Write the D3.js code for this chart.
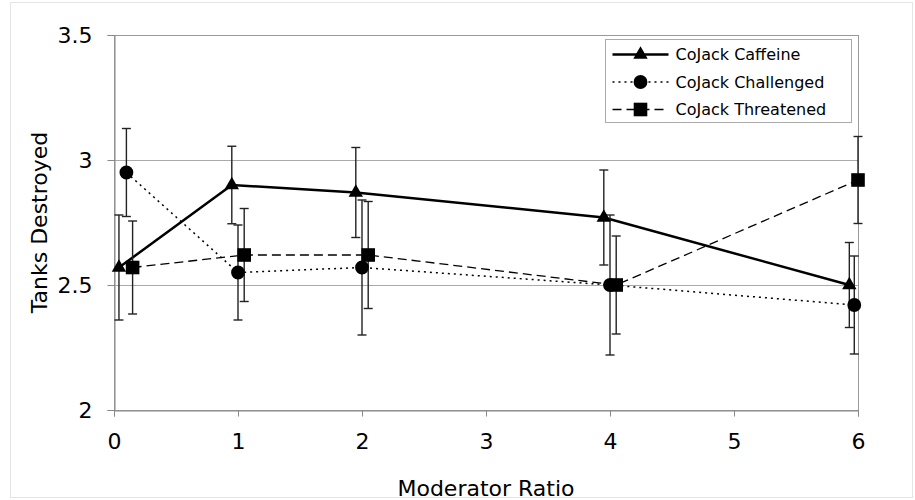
<!DOCTYPE html>
<html>
<head>
<meta charset="utf-8">
<script src="https://cdn.jsdelivr.net/npm/d3@7"></script>
<style>
  body { margin: 0; background: #fff; }
  svg { display: block; font-family: "DejaVu Sans", Verdana, sans-serif; }
</style>
</head>
<body>
<div id="chart"></div>
<script>
// data
var seriesNames = ["CoJack Caffeine", "CoJack Challenged", "CoJack Threatened"];
var caffeineX = [0.04, 0.95, 1.95, 3.95, 5.93];
var caffeineY = [2.57, 2.90, 2.87, 2.77, 2.50];
var caffeineErr = [0.21, 0.155, 0.18, 0.19, 0.17];
var challengedX = [0.1, 1.0, 2.0, 4.0, 5.97];
var challengedY = [2.95, 2.55, 2.57, 2.50, 2.42];
var challengedErr = [0.176, 0.19, 0.27, 0.28, 0.196];
var threatenedX = [0.15, 1.05, 2.05, 4.05, 6.0];
var threatenedY = [2.57, 2.62, 2.62, 2.50, 2.92];
var threatenedErr = [0.186, 0.186, 0.214, 0.196, 0.174];
var xTicks = [0, 1, 2, 3, 4, 5, 6];
var yTicks = [2, 2.5, 3, 3.5];

var width = 915, height = 500;
var margin = { top: 35, right: 57, bottom: 90, left: 114 };

var svg = d3.select("#chart").append("svg")
    .attr("width", width)
    .attr("height", height);

// faint outer frame
svg.append("rect")
    .attr("x", 10.5).attr("y", 2.5)
    .attr("width", width - 13).attr("height", height - 5)
    .attr("fill", "none")
    .attr("stroke", "#e4e4e4");

var x = d3.scaleLinear().domain([0, 6]).range([margin.left, width - margin.right]);
var y = d3.scaleLinear().domain([2, 3.5]).range([height - margin.bottom, margin.top]);

// grid
svg.append("g")
    .selectAll("line")
    .data(yTicks.slice(1, 3))
    .enter().append("line")
    .attr("x1", x(0)).attr("x2", x(6))
    .attr("y1", function (d) { return Math.round(y(d)) + 0.5; })
    .attr("y2", function (d) { return Math.round(y(d)) + 0.5; })
    .attr("stroke", "#aaa")
    .attr("stroke-width", 1);

// plot frame
svg.append("rect")
    .attr("x", x(0) + 0.5).attr("y", y(3.5) + 0.5)
    .attr("width", x(6) - x(0)).attr("height", y(2) - y(3.5))
    .attr("fill", "none")
    .attr("stroke", "#999");

var xAxis = svg.append("g")
    .attr("transform", "translate(0," + (y(2) + 0.5) + ")")
    .call(d3.axisBottom(x).tickValues(xTicks).tickSize(6).tickPadding(17).tickFormat(d3.format("d")));
var yAxis = svg.append("g")
    .attr("transform", "translate(" + (x(0) + 0.5) + ",0)")
    .call(d3.axisLeft(y).tickValues(yTicks).tickSize(7).tickPadding(15).tickFormat(function (d) { return d; }));

[xAxis, yAxis].forEach(function (ax) {
    ax.select(".domain").attr("stroke", "#888");
    ax.selectAll(".tick line").attr("stroke", "#888");
    ax.selectAll("text").attr("fill", "#000").style("font-size", "22px")
        .style("font-family", "DejaVu Sans, Verdana, sans-serif");
});

svg.append("text")
    .attr("x", (x(0) + x(6)) / 2)
    .attr("y", 496)
    .attr("text-anchor", "middle")
    .style("font-size", "22px")
    .text("Moderator Ratio");

svg.append("text")
    .attr("transform", "translate(47," + y(2.75) + ") rotate(-90)")
    .attr("text-anchor", "middle")
    .style("font-size", "22px")
    .text("Tanks Destroyed");

function makeSeries(xs, ys, es) {
    return xs.map(function (v, i) { return { x: v, y: ys[i], e: es[i] }; });
}

var series = [
    { name: seriesNames[0], pts: makeSeries(caffeineX, caffeineY, caffeineErr), dash: null, width: 2.5, sym: d3.symbolTriangle, size: 90 },
    { name: seriesNames[1], pts: makeSeries(challengedX, challengedY, challengedErr), dash: "2,4", width: 1.5, sym: d3.symbolCircle, size: 150 },
    { name: seriesNames[2], pts: makeSeries(threatenedX, threatenedY, threatenedErr), dash: "9,5", width: 1.3, sym: d3.symbolSquare, size: 185 }
];

var line = d3.line()
    .x(function (d) { return x(d.x); })
    .y(function (d) { return y(d.y); });

svg.append("g").selectAll("path")
    .data(series)
    .enter().append("path")
    .attr("d", function (s) { return line(s.pts); })
    .attr("fill", "none")
    .attr("stroke", "#000")
    .attr("stroke-width", function (s) { return s.width; })
    .attr("stroke-dasharray", function (s) { return s.dash; });

// error bars
series.forEach(function (s) {
    var g = svg.append("g").attr("stroke", "#222").attr("stroke-width", 1.4);
    s.pts.forEach(function (p) {
        var cx = x(p.x), t = y(p.y + p.e), b = y(p.y - p.e);
        g.append("line").attr("x1", cx).attr("x2", cx).attr("y1", t).attr("y2", b);
        g.append("line").attr("x1", cx - 4.5).attr("x2", cx + 4.5).attr("y1", t).attr("y2", t);
        g.append("line").attr("x1", cx - 4.5).attr("x2", cx + 4.5).attr("y1", b).attr("y2", b);
    });
});

// markers
series.forEach(function (s) {
    svg.append("g").selectAll("path")
        .data(s.pts)
        .enter().append("path")
        .attr("d", d3.symbol().type(s.sym).size(s.size))
        .attr("transform", function (p) { return "translate(" + x(p.x) + "," + y(p.y) + ")"; })
        .attr("fill", "#000");
});

// legend
var legend = svg.append("g").attr("transform", "translate(605.5,39.5)");
legend.append("rect")
    .attr("width", 246).attr("height", 83)
    .attr("fill", "#fff")
    .attr("stroke", "#aaa");

var items = legend.selectAll("g")
    .data(series)
    .enter().append("g")
    .attr("transform", function (s, i) { return "translate(0," + (15 + i * 27.5) + ")"; });

items.append("line")
    .attr("x1", 7).attr("x2", 63)
    .attr("stroke", "#000")
    .attr("stroke-width", function (s) { return s.width; })
    .attr("stroke-dasharray", function (s) { return s.dash; });
items.append("path")
    .attr("d", function (s) { return d3.symbol().type(s.sym).size(s.size)(); })
    .attr("transform", "translate(35,0)")
    .attr("fill", "#000");
items.append("text")
    .attr("x", 70)
    .attr("dy", "0.36em")
    .style("font-size", "16px")
    .text(function (s) { return s.name; });
</script>
</body>
</html>
